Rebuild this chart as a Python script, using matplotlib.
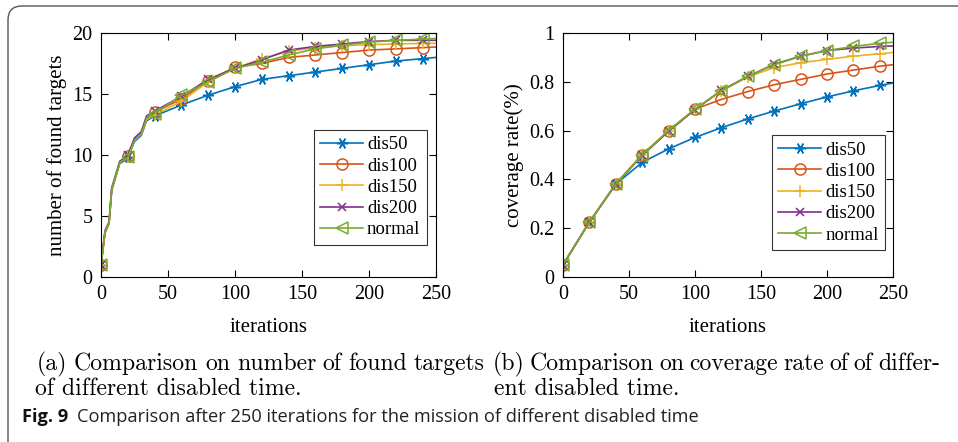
import matplotlib
matplotlib.use("Agg")
import matplotlib.pyplot as plt
import matplotlib.transforms as mtransforms
from matplotlib.patches import FancyBboxPatch

# ---------------- data ----------------
series_names = ["dis50", "dis100", "dis150", "dis200", "normal"]

iters_a = [0, 3, 6, 8, 14, 17, 20, 25, 30, 34, 40, 60, 80, 100, 120, 140, 160, 180, 200, 220, 240, 250]
found_dis50 = [1.0, 3.6, 4.4, 7.1, 9.3, 9.5, 9.8, 11.1, 11.6, 12.8, 13.2, 14.1, 14.9, 15.6, 16.2, 16.5, 16.8, 17.1, 17.4, 17.7, 17.9, 18.0]
found_dis100 = [1.0, 3.7, 4.4, 7.2, 9.4, 9.6, 9.9, 11.2, 11.7, 13.0, 13.5, 14.6, 16.1, 17.2, 17.5, 18.0, 18.2, 18.4, 18.6, 18.7, 18.8, 18.85]
found_dis150 = [1.0, 3.7, 4.4, 7.2, 9.4, 9.6, 9.8, 11.2, 11.7, 12.9, 13.3, 14.4, 16.0, 17.1, 17.9, 18.5, 18.8, 18.95, 19.05, 19.1, 19.15, 19.15]
found_dis200 = [1.0, 3.8, 4.5, 7.3, 9.5, 9.7, 10.0, 11.4, 11.9, 13.2, 13.6, 14.8, 16.2, 17.1, 17.8, 18.6, 18.9, 19.1, 19.3, 19.4, 19.4, 19.4]
found_normal = [1.0, 3.7, 4.4, 7.2, 9.4, 9.6, 9.8, 11.2, 11.7, 13.0, 13.4, 14.9, 16.0, 17.1, 17.6, 18.2, 18.7, 19.0, 19.25, 19.4, 19.5, 19.55]

iters_b = [0, 20, 40, 60, 80, 100, 120, 140, 160, 180, 200, 220, 240, 250]
cov_dis50 = [0.05, 0.225, 0.38, 0.47, 0.525, 0.572, 0.612, 0.648, 0.68, 0.71, 0.738, 0.763, 0.785, 0.795]
cov_dis100 = [0.05, 0.225, 0.382, 0.502, 0.6, 0.688, 0.728, 0.76, 0.788, 0.81, 0.832, 0.848, 0.864, 0.87]
cov_dis150 = [0.05, 0.225, 0.382, 0.5, 0.598, 0.688, 0.762, 0.82, 0.858, 0.878, 0.892, 0.905, 0.915, 0.92]
cov_dis200 = [0.05, 0.225, 0.38, 0.498, 0.597, 0.686, 0.765, 0.822, 0.872, 0.905, 0.928, 0.938, 0.945, 0.947]
cov_normal = [0.05, 0.225, 0.38, 0.5, 0.6, 0.688, 0.764, 0.822, 0.87, 0.904, 0.928, 0.945, 0.958, 0.962]

xticks = [0, 50, 100, 150, 200, 250]
yticks_a = [0, 5, 10, 15, 20]
yticks_b = [0, 0.2, 0.4, 0.6, 0.8, 1]
yticklabels_b = ["0", "0.2", "0.4", "0.6", "0.8", "1"]

xlabel = "iterations"
ylabel_a = "number of found targets"
ylabel_b = "coverage rate(%)"
caption_a1 = "(a) Comparison on number of found targets"
caption_a2 = "of different disabled time."
caption_b1 = "(b) Comparison on coverage rate of of differ-"
caption_b2 = "ent disabled time."
fig_label = "Fig. 9"
fig_caption = "Comparison after 250 iterations for the mission of different disabled time"

# ---------------- style ----------------
colors = ["#0072BD", "#D95319", "#EDB120", "#7E2F8E", "#77AC30"]
markers = [(6, 2, 90), "o", "+", "x", "<"]
msizes = [8, 8, 8, 5.5, 8]
SERIF = "Liberation Serif"

W, H = 958, 442
fig = plt.figure(figsize=(W / 100, H / 100), dpi=100)
fig.patch.set_facecolor("white")
IDT = mtransforms.IdentityTransform()


def px_axes(x0, x1, ytop, ybot):
    return fig.add_axes([x0 / W, 1 - ybot / H, (x1 - x0) / W, (ybot - ytop) / H])


ax_a = px_axes(101, 436, 33, 277)
ax_b = px_axes(563, 893, 33, 277)

data_a = [found_dis50, found_dis100, found_dis150, found_dis200, found_normal]
data_b = [cov_dis50, cov_dis100, cov_dis150, cov_dis200, cov_normal]

mark_a = [i for i, v in enumerate(iters_a) if v % 20 == 0 and v <= 240]
mark_b = [i for i, v in enumerate(iters_b) if v % 20 == 0 and v <= 240]


def draw(ax, xs, ys_list, marks):
    for name, ys, c, m, ms in zip(series_names, ys_list, colors, markers, msizes):
        ax.plot(xs, ys, color=c, lw=1.2, marker=m, markevery=marks, ms=ms,
                mfc="none", mec=c, mew=1.1, label=name)


draw(ax_a, iters_a, data_a, mark_a)
draw(ax_b, iters_b, data_b, mark_b)

for ax in (ax_a, ax_b):
    ax.set_xlim(0, 250)
    ax.set_xticks(xticks)
    ax.tick_params(direction="in", top=True, right=True, length=5, width=0.8,
                   labelsize=14.5, pad=6)
    for sp in ax.spines.values():
        sp.set_linewidth(0.8)
    ax.set_xlabel(xlabel, fontsize=15, family=SERIF, labelpad=10)

ax_a.set_ylim(0, 20)
ax_a.set_yticks(yticks_a)
ax_a.set_ylabel(ylabel_a, fontsize=15, family=SERIF, labelpad=4)
ax_b.set_ylim(0, 1)
ax_b.set_yticks(yticks_b)
ax_b.set_yticklabels(yticklabels_b)
ax_b.set_ylabel(ylabel_b, fontsize=15, family=SERIF, labelpad=4)
for ax in (ax_a, ax_b):
    for lab in ax.get_xticklabels() + ax.get_yticklabels():
        lab.set_family(SERIF)

leg_kw = dict(loc="lower right", prop={"family": SERIF, "size": 13.5}, frameon=True,
              fancybox=False, edgecolor="black", handlelength=2.3, handletextpad=0.2,
              labelspacing=0.22, borderpad=0.35, borderaxespad=0)
la = ax_a.legend(bbox_to_anchor=(0.973, 0.131), **leg_kw)
lb = ax_b.legend(bbox_to_anchor=(0.976, 0.11), **leg_kw)
for lg in (la, lb):
    lg.get_frame().set_linewidth(0.8)

# ---------------- captions ----------------
fig.canvas.draw()
renderer = fig.canvas.get_renderer()


def width_of(s, **kw):
    t = fig.text(0, 0, s, transform=IDT, **kw)
    w = t.get_window_extent(renderer).width
    t.remove()
    return w


def justified(text, x0, x1, ycen, **kw):
    words = text.split(" ")
    arts = [fig.text(0, 0, w, transform=IDT, va="center", **kw) for w in words]
    widths = [a.get_window_extent(renderer).width for a in arts]
    gap = (x1 - x0 - sum(widths)) / (len(words) - 1)
    x = x0
    for a, w in zip(arts, widths):
        a.set_position((x, H - ycen))
        x += w + gap


# caption font sized so the unjustified second line matches the reference width
base = width_of(caption_a2, family="cmr10", fontsize=10)
cap_size = 10 * 268 / base
cap_kw = dict(family="cmr10", fontsize=cap_size)
justified(caption_a1, 37, 485, 364, **cap_kw)
fig.text(35, H - 389, caption_a2, transform=IDT, va="center", **cap_kw)
justified(caption_b1, 493, 940, 364, **cap_kw)
fig.text(494, H - 389, caption_b2, transform=IDT, va="center", **cap_kw)

# bottom figure caption: bold label then text, spanning to x=702
lab_x0, cap_x1, gap_px = 22, 702, 9
w_lab10 = width_of(fig_label, family="Open Sans", fontweight="bold", fontsize=10)
w_cap10 = width_of(fig_caption, family="Open Sans", fontsize=10)
fc_size = 10 * (cap_x1 - lab_x0 - gap_px) / (w_lab10 + w_cap10)
t_lab = fig.text(lab_x0, H - 417, fig_label, transform=IDT, va="center",
                 family="Open Sans", fontweight="bold", fontsize=fc_size, color="#111111")
fig.canvas.draw()
w_lab = t_lab.get_window_extent(renderer).width
fig.text(lab_x0 + w_lab + gap_px, H - 417, fig_caption, transform=IDT,
         va="center", family="Open Sans", fontsize=fc_size, color="#222222")

frame = FancyBboxPatch((8, -60), 1100, H - 6 + 60, boxstyle="round,pad=0,rounding_size=14",
                       transform=IDT, fill=False, edgecolor="#555555", lw=1.0)
fig.add_artist(frame)

fig.savefig("out.png", dpi=100)
